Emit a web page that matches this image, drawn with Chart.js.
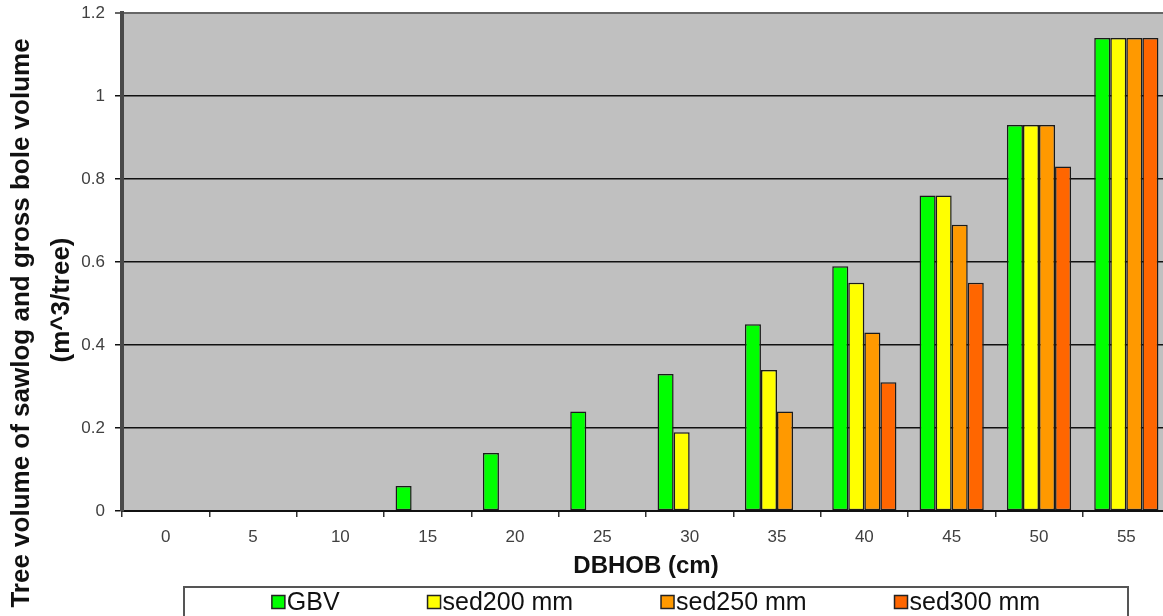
<!DOCTYPE html>
<html>
<head>
<meta charset="utf-8">
<script src="https://cdn.jsdelivr.net/npm/chart.js@4/dist/chart.umd.min.js"></script>
<style>
  html, body { margin: 0; padding: 0; background: #ffffff; overflow: hidden; }
  #wrap { width: 1170px; height: 616px; }
</style>
</head>
<body>
<div id="wrap"><canvas id="c" width="1170" height="616"></canvas></div>
<script>
// ---- data ----
const categories = ['0', '5', '10', '15', '20', '25', '30', '35', '40', '45', '50', '55'];
const gbv     = [0, 0, 0, 0.06, 0.14, 0.24, 0.33, 0.45, 0.59, 0.76, 0.93, 1.14];
const sed200  = [0, 0, 0, 0, 0, 0, 0.19, 0.34, 0.55, 0.76, 0.93, 1.14];
const sed250  = [0, 0, 0, 0, 0, 0, 0, 0.24, 0.43, 0.69, 0.93, 1.14];
const sed300  = [0, 0, 0, 0, 0, 0, 0, 0, 0.31, 0.55, 0.83, 1.14];
const seriesNames = ['GBV', 'sed200 mm', 'sed250 mm', 'sed300 mm'];
const seriesColors = ['#00FF00', '#FFFF00', '#FF9900', '#FF6600'];
const yTickLabels = ['0', '0.2', '0.4', '0.6', '0.8', '1', '1.2'];
const yTitleLines = ['Tree volume of sawlog and gross bole volume', '(m^3/tree)'];
const xTitle = 'DBHOB (cm)';

const FONT = "'Liberation Sans', Arial, sans-serif";

const bgPlugin = {
  id: 'plotBg',
  beforeDraw(chart) {
    const {ctx, chartArea: a} = chart;
    ctx.save();
    ctx.fillStyle = '#C0C0C0';
    ctx.fillRect(a.left, a.top, a.right - a.left, a.bottom - a.top);
    ctx.restore();
  }
};

const yTitlePlugin = {
  id: 'yTitle',
  afterDraw(chart) {
    const ctx = chart.ctx;
    const spots = [[22, 323], [62, 300]];
    yTitleLines.forEach((line, i) => {
      ctx.save();
      ctx.fillStyle = '#111111';
      ctx.textAlign = 'center';
      ctx.textBaseline = 'middle';
      ctx.font = "bold 26px " + FONT;
      ctx.translate(spots[i][0], spots[i][1]);
      ctx.rotate(-Math.PI / 2);
      ctx.fillText(line, 0, 0);
      ctx.restore();
    });
  }
};

const legendPlugin = {
  id: 'boxLegend',
  afterDraw(chart) {
    const ctx = chart.ctx;
    const bx = 184, by = 587, bw = 944, bh = 34;
    ctx.save();
    ctx.fillStyle = '#ffffff';
    ctx.fillRect(bx, by, bw, bh);
    ctx.strokeStyle = '#555555';
    ctx.lineWidth = 2;
    ctx.strokeRect(bx, by, bw, bh);
    ctx.font = "25px " + FONT;
    const sq = 13, gapSq = 2;
    const ds = chart.data.datasets;
    const widths = ds.map(d => sq + gapSq + ctx.measureText(d.label).width);
    const total = widths.reduce((s, w) => s + w, 0);
    const gap = (bw - total) / (ds.length + 1);
    let x = bx + gap;
    const cy = 602;
    ds.forEach((d, i) => {
      ctx.fillStyle = d.backgroundColor;
      ctx.fillRect(x, cy - sq / 2, sq, sq);
      ctx.strokeStyle = '#222222';
      ctx.lineWidth = 1.5;
      ctx.strokeRect(x, cy - sq / 2, sq, sq);
      ctx.fillStyle = '#111111';
      ctx.textAlign = 'left';
      ctx.textBaseline = 'middle';
      ctx.fillText(d.label, x + sq + gapSq, cy + 1);
      x += widths[i] + gap;
    });
    ctx.restore();
  }
};

const seriesData = [gbv, sed200, sed250, sed300];

new Chart(document.getElementById('c'), {
  type: 'bar',
  data: {
    labels: categories,
    datasets: seriesData.map((vals, i) => ({
      label: seriesNames[i],
      data: vals,
      backgroundColor: seriesColors[i],
      borderColor: '#1a1a1a',
      borderWidth: 1.5,
      borderSkipped: false,
      categoryPercentage: 0.735,
      barPercentage: 1.0
    }))
  },
  options: {
    responsive: false,
    animation: false,
    devicePixelRatio: 1,
    layout: { padding: { top: 13, right: 0, bottom: 30, left: 0 } },
    plugins: {
      legend: { display: false },
      tooltip: { enabled: false }
    },
    scales: {
      x: {
        afterFit(scale) { scale.height = 75; scale.paddingLeft = 0; scale.paddingRight = 0; },
        grid: {
          offset: true,
          drawOnChartArea: false,
          drawTicks: true,
          tickLength: 6,
          color: '#333333',
          lineWidth: 1.5
        },
        border: { display: true, color: '#111111', width: 2 },
        ticks: {
          color: '#404040',
          font: { family: FONT, size: 17 },
          padding: 10,
          maxRotation: 0,
          autoSkip: false
        },
        title: {
          display: true,
          text: xTitle,
          color: '#111111',
          font: { family: FONT, size: 24, weight: 'bold' },
          padding: { top: 0, bottom: 5 }
        }
      },
      y: {
        min: 0,
        max: 1.2,
        afterFit(scale) { scale.width = 122; scale.paddingTop = 0; scale.paddingBottom = 0; },
        ticks: {
          stepSize: 0.2,
          color: '#404040',
          font: { family: FONT, size: 17 },
          padding: 10,
          callback: (v, i) => yTickLabels[i]
        },
        grid: {
          drawTicks: true,
          tickLength: 7,
          color: ctx => (ctx.tick && ctx.tick.value >= 1.19) ? '#666666' : '#111111',
          lineWidth: ctx => (ctx.tick && ctx.tick.value >= 1.19) ? 2 : 1.5
        },
        border: { display: true, color: '#4a4a4a', width: 4 }
      }
    }
  },
  plugins: [bgPlugin, yTitlePlugin, legendPlugin]
});
</script>
</body>
</html>
